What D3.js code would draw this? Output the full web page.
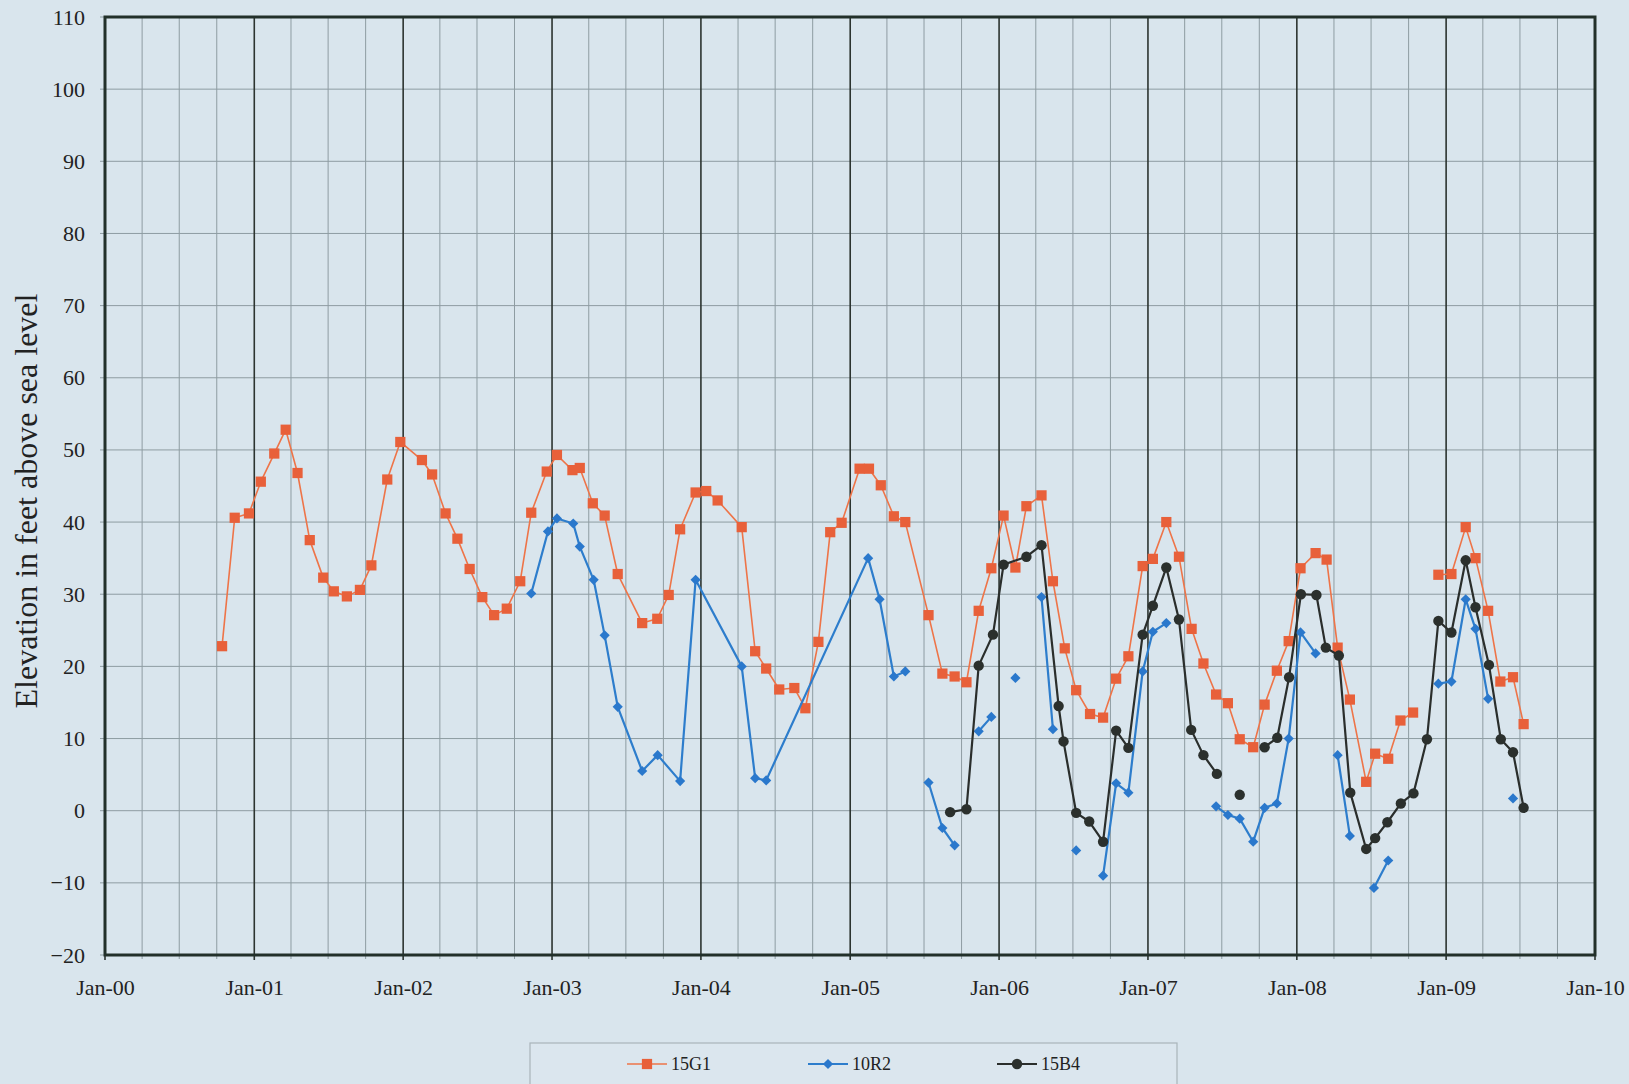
<!DOCTYPE html>
<html>
<head>
<meta charset="utf-8">
<script src="https://cdn.jsdelivr.net/npm/d3@7"></script>
<style>
  html, body { margin: 0; padding: 0; background: #d9e5ed; }
  svg { display: block; }
  text { font-family: "Liberation Serif", "DejaVu Serif", serif; fill: #222; }
</style>
</head>
<body>
<svg id="chart" width="1629" height="1084"></svg>
<script>
// ---------------- DATA ----------------
const yTickValues = [-20, -10, 0, 10, 20, 30, 40, 50, 60, 70, 80, 90, 100, 110];
const xTickYears = ["2000", "2001", "2002", "2003", "2004", "2005", "2006", "2007", "2008", "2009", "2010"];
const seriesNames = ["15G1", "10R2", "15B4"];

const g1Dates = [
  "2000-10-14","2000-11-14","2000-12-19","2001-01-17","2001-02-19","2001-03-19","2001-04-17","2001-05-17",
  "2001-06-19","2001-07-15","2001-08-16","2001-09-17","2001-10-15","2001-11-23","2001-12-25","2002-02-16",
  "2002-03-13","2002-04-15","2002-05-14","2002-06-13","2002-07-14","2002-08-12","2002-09-12","2002-10-15",
  "2002-11-11","2002-12-19","2003-01-13","2003-02-20","2003-03-10","2003-04-11","2003-05-10","2003-06-11",
  "2003-08-10","2003-09-16","2003-10-14","2003-11-11","2003-12-19","2004-01-14","2004-02-11","2004-04-10",
  "2004-05-13","2004-06-09","2004-07-11","2004-08-17","2004-09-13","2004-10-15","2004-11-13","2004-12-11",
  "2005-01-24","2005-02-16","2005-03-17","2005-04-18","2005-05-16","2005-07-12","2005-08-15","2005-09-14",
  "2005-10-13","2005-11-12","2005-12-13","2006-01-12","2006-02-10","2006-03-09","2006-04-15","2006-05-13",
  "2006-06-11","2006-07-09","2006-08-12","2006-09-13","2006-10-15","2006-11-14","2006-12-19","2007-01-13",
  "2007-02-15","2007-03-18","2007-04-18","2007-05-17","2007-06-17","2007-07-16","2007-08-14","2007-09-16",
  "2007-10-14","2007-11-13","2007-12-12","2008-01-10","2008-02-16","2008-03-14","2008-04-10","2008-05-10",
  "2008-06-19","2008-07-11","2008-08-12","2008-09-11","2008-10-12","2008-11-12","2008-12-13","2009-01-14",
  "2009-02-18","2009-03-14","2009-04-14","2009-05-14","2009-06-14","2009-07-10"
];
const g1Values = [
  22.8, 40.6, 41.2, 45.6, 49.5, 52.8, 46.8, 37.5,
  32.3, 30.4, 29.7, 30.6, 34.0, 45.9, 51.1, 48.6,
  46.6, 41.2, 37.7, 33.5, 29.6, 27.1, 28.0, 31.8,
  41.3, 47.0, 49.3, 47.2, 47.5, 42.6, 40.9, 32.8,
  26.0, 26.6, 29.9, 39.0, 44.1, 44.3, 43.0, 39.3,
  22.1, 19.7, 16.8, 17.0, 14.2, 23.4, 38.6, 39.9,
  47.4, 47.4, 45.1, 40.8, 40.0, 27.1, 19.0, 18.6,
  17.8, 27.7, 33.6, 40.9, 33.7, 42.2, 43.7, 31.8,
  22.5, 16.7, 13.4, 12.9, 18.3, 21.4, 33.9, 34.9,
  40.0, 35.2, 25.2, 20.4, 16.1, 14.9, 9.9, 8.8,
  14.7, 19.4, 23.5, 33.6, 35.7, 34.8, 22.6, 15.4,
  4.0, 7.9, 7.2, 12.5, 13.6, null, 32.7, 32.8,
  39.3, 35.0, 27.7, 17.9, 18.5, 12.0
];

const r2Dates = [
  "2002-11-11","2002-12-22","2003-01-13","2003-02-22","2003-03-10","2003-04-13","2003-05-10","2003-06-11",
  "2003-08-10","2003-09-17","2003-11-11","2003-12-19","2004-04-10","2004-05-13","2004-06-09","2005-02-14",
  "2005-03-14","2005-04-18","2005-05-16","2005-06-14","2005-07-12","2005-08-15","2005-09-14","2005-10-13",
  "2005-11-12","2005-12-13","2006-01-12","2006-02-10","2006-03-09","2006-04-15","2006-05-13","2006-06-11",
  "2006-07-09","2006-08-12","2006-09-13","2006-10-15","2006-11-14","2006-12-19","2007-01-13","2007-02-15",
  "2007-03-18","2007-06-17","2007-07-16","2007-08-14","2007-09-16","2007-10-14","2007-11-13","2007-12-12",
  "2008-01-10","2008-02-16","2008-03-14","2008-04-10","2008-05-10","2008-06-10","2008-07-08","2008-08-12",
  "2008-09-11","2008-12-13","2009-01-14","2009-02-18","2009-03-14","2009-04-14","2009-05-14","2009-06-14"
];
const r2Values = [
  30.1, 38.7, 40.5, 39.8, 36.6, 32.0, 24.3, 14.4,
  5.5, 7.7, 4.1, 32.0, 20.0, 4.5, 4.2, 35.0,
  29.3, 18.6, 19.3, null, 3.9, -2.4, -4.8, null,
  11.0, 13.0, null, 18.4, null, 29.6, 11.3, null,
  -5.5, null, -9.0, 3.8, 2.5, 19.3, 24.8, 26.0,
  null, 0.6, -0.6, -1.1, -4.3, 0.4, 1.0, 10.0,
  24.7, 21.8, null, 7.7, -3.5, null, -10.7, -6.9,
  null, 17.6, 17.9, 29.3, 25.2, 15.5, null, 1.7
];

const b4Dates = [
  "2005-09-03","2005-10-13","2005-11-12","2005-12-17","2006-01-12","2006-03-09","2006-04-15","2006-05-27",
  "2006-06-08","2006-07-09","2006-08-10","2006-09-13","2006-10-15","2006-11-14","2006-12-19","2007-01-13",
  "2007-02-15","2007-03-18","2007-04-17","2007-05-17","2007-06-19","2007-07-16","2007-08-14","2007-09-16",
  "2007-10-14","2007-11-14","2007-12-13","2008-01-11","2008-02-18","2008-03-12","2008-04-13","2008-05-11",
  "2008-06-19","2008-07-11","2008-08-10","2008-09-12","2008-10-13","2008-11-15","2008-12-13","2009-01-14",
  "2009-02-18","2009-03-14","2009-04-16","2009-05-15","2009-06-14","2009-07-10"
];
const b4Values = [
  -0.2, 0.2, 20.1, 24.4, 34.1, 35.2, 36.8, 14.5,
  9.6, -0.3, -1.5, -4.3, 11.1, 8.7, 24.4, 28.4,
  33.7, 26.5, 11.2, 7.7, 5.1, null, 2.2, null,
  8.8, 10.1, 18.5, 30.0, 29.9, 22.6, 21.5, 2.5,
  -5.3, -3.8, -1.6, 1.0, 2.4, 9.9, 26.3, 24.7,
  34.7, 28.2, 20.2, 9.9, 8.1, 0.4
];

// ---------------- LAYOUT ----------------
const svg = d3.select("#chart");
const W = 1629, H = 1084;
const pLeft = 105, pRight = 1595, pTop = 17, pBottom = 955;
const parse = d3.timeParse("%Y-%m-%d");

svg.append("rect").attr("x", 0).attr("y", 0).attr("width", W).attr("height", H).attr("fill", "#d9e5ed");

const x = d3.scaleTime()
  .domain([parse("2000-01-01"), parse("2010-01-01")])
  .range([pLeft, pRight]);
const y = d3.scaleLinear().domain([-20, 110]).range([pBottom, pTop]);

// minor vertical grid (quarterly)
const quarters = d3.timeMonth.every(3).range(parse("2000-01-01"), parse("2010-01-02"));
svg.append("g").selectAll("line")
  .data(quarters.filter(d => d.getMonth() !== 0))
  .join("line")
  .attr("x1", d => x(d)).attr("x2", d => x(d))
  .attr("y1", pTop).attr("y2", pBottom + 4)
  .attr("stroke", "#8e9ca2").attr("stroke-width", 1);

// horizontal grid
svg.append("g").selectAll("line")
  .data(yTickValues)
  .join("line")
  .attr("x1", pLeft - 5).attr("x2", pRight)
  .attr("y1", d => y(d)).attr("y2", d => y(d))
  .attr("stroke", "#8e9ca2").attr("stroke-width", 1);

// major vertical grid (January)
const years = xTickYears.map(s => parse(s + "-01-01"));
svg.append("g").selectAll("line")
  .data(years)
  .join("line")
  .attr("x1", d => x(d)).attr("x2", d => x(d))
  .attr("y1", pTop).attr("y2", pBottom + 5)
  .attr("stroke", "#2c3430").attr("stroke-width", 1.6);

// Axes (labels)
const yAxis = d3.axisLeft(y).tickValues(yTickValues).tickSize(0).tickPadding(20);
const gy = svg.append("g").attr("transform", `translate(${pLeft},0)`).call(yAxis);
gy.select(".domain").remove();
gy.selectAll("text").style("font-family", "'Liberation Serif', serif").style("font-size", "22px").attr("fill", "#222");

const xAxis = d3.axisBottom(x).tickValues(years).tickFormat(d3.timeFormat("Jan-%y")).tickSize(0).tickPadding(24);
const gx = svg.append("g").attr("transform", `translate(0,${pBottom})`).call(xAxis);
gx.select(".domain").remove();
gx.selectAll("text").style("font-family", "'Liberation Serif', serif").style("font-size", "22px").attr("fill", "#222");

// plot border
svg.append("rect")
  .attr("x", pLeft).attr("y", pTop).attr("width", pRight - pLeft).attr("height", pBottom - pTop)
  .attr("fill", "none").attr("stroke", "#22302a").attr("stroke-width", 3);

// axis title
svg.append("text")
  .attr("transform", `translate(37,${(pTop + pBottom) / 2 + 15}) rotate(-90)`)
  .attr("text-anchor", "middle")
  .style("font-size", "32px")
  .text("Elevation in feet above sea level");

// ---------------- SERIES ----------------
function build(dates, values) {
  return dates.map((d, i) => ({ date: parse(d), value: values[i] }));
}
const series = [
  { name: seriesNames[0], data: build(g1Dates, g1Values), line: "#ee7448", fill: "#e8603a", width: 1.6, shape: "square", rot: 0 },
  { name: seriesNames[1], data: build(r2Dates, r2Values), line: "#2d7dcc", fill: "#2a78cc", width: 2.2, shape: "diamond", rot: 45 },
  { name: seriesNames[2], data: build(b4Dates, b4Values), line: "#2a2e2c", fill: "#2b302d", width: 2.2, shape: "circle", rot: 0 }
];

const line = d3.line()
  .defined(d => d.value !== null)
  .x(d => x(d.date)).y(d => y(d.value));

const symbolFor = {
  square: d3.symbol().type(d3.symbolSquare).size(105),
  diamond: d3.symbol().type(d3.symbolSquare).size(52),
  circle: d3.symbol().type(d3.symbolCircle).size(85)
};

series.forEach(s => {
  const g = svg.append("g");
  g.append("path").datum(s.data)
    .attr("d", line)
    .attr("fill", "none").attr("stroke", s.line).attr("stroke-width", s.width)
    .attr("stroke-linejoin", "round");
  g.selectAll("path.m")
    .data(s.data.filter(d => d.value !== null))
    .join("path").attr("class", "m")
    .attr("transform", d => `translate(${x(d.date)},${y(d.value)}) rotate(${s.rot})`)
    .attr("d", symbolFor[s.shape]())
    .attr("fill", s.fill);
});

// ---------------- LEGEND ----------------
const lg = svg.append("g");
lg.append("rect").attr("x", 530).attr("y", 1043).attr("width", 647).attr("height", 50)
  .attr("fill", "#dbe6ee").attr("stroke", "#a9b4ba").attr("stroke-width", 1.2);
const legendX = [627, 808, 997];
series.forEach((s, i) => {
  const lx = legendX[i], ly = 1064;
  lg.append("line").attr("x1", lx).attr("x2", lx + 40).attr("y1", ly).attr("y2", ly)
    .attr("stroke", s.line).attr("stroke-width", s.width);
  lg.append("path").attr("transform", `translate(${lx + 20},${ly}) rotate(${s.rot})`)
    .attr("d", symbolFor[s.shape]()).attr("fill", s.fill);
  lg.append("text").attr("x", lx + 44).attr("y", ly + 6).style("font-size", "18px").text(s.name);
});
</script>
</body>
</html>
